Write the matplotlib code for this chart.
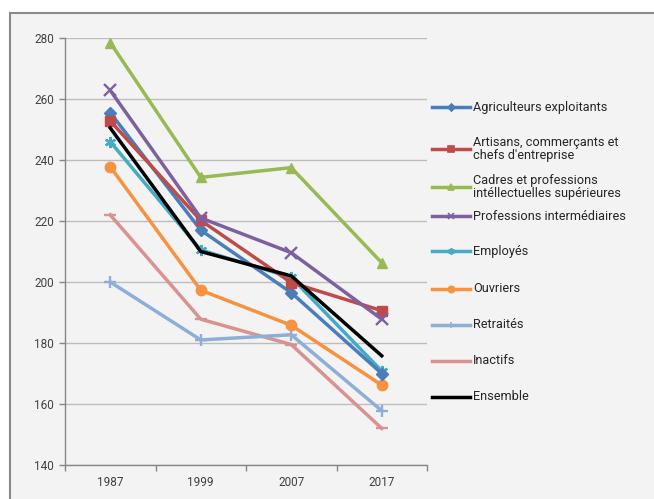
import matplotlib
matplotlib.use('Agg')
import matplotlib.pyplot as plt
from matplotlib.lines import Line2D
from matplotlib.patches import Rectangle

plt.rcParams['font.family'] = ['Roboto', 'DejaVu Sans']

years = ['1987', '1999', '2007', '2017']

agriculteurs = [255.5, 217, 196.5, 170]
artisans = [252.8, 220.2, 199.8, 190.6]
cadres = [278.5, 234.3, 237.5, 206.3]
prof_inter = [262.8, 221, 209.6, 187.8]
employes = [246, 210.5, 201.5, 170.8]
ouvriers = [237.8, 197.3, 185.8, 166.2]
retraites = [200, 181, 182.7, 157.8]
inactifs = [222, 187.8, 179.5, 152]
ensemble = [250.5, 210, 202, 175.8]

labels = ['Agriculteurs exploitants',
          'Artisans, commerçants et\nchefs d\'entreprise',
          'Cadres et professions\nintéllectuelles supérieures',
          'Professions intermédiaires',
          'Employés',
          'Ouvriers',
          'Retraités',
          'Inactifs',
          'Ensemble']
series = [agriculteurs, artisans, cadres, prof_inter, employes,
          ouvriers, retraites, inactifs, ensemble]
colors = ['#4a7ebb', '#be4b48', '#98b954', '#7d60a0', '#46aac5',
          '#f69240', '#8eaed8', '#d8928f', '#000000']
asterisk = (6, 2, 0)
markers = ['D', 's', '^', 'x', asterisk, 'o', '+', '_', None]
msizes = [6, 7, 7.5, 8, 8, 7.5, 8, 8, 0]
thin = [False, False, False, True, True, False, True, True, False]

W, H = 654, 499
fig = plt.figure(figsize=(W / 100, H / 100), dpi=100, facecolor='white')

# grey panel with a frame on the left and top
fig.patches.append(Rectangle((9.5 / W, -0.1), 1.2, 1.1 - 12.5 / H,
                             transform=fig.transFigure, facecolor='#f3f3f3',
                             edgecolor='#8a8a8a', linewidth=1.5, zorder=-1))

ax = fig.add_axes([65 / W, 1 - 465 / H, 362 / W, 427 / H])
ax.set_zorder(2)
ax.set_facecolor('none')
x = range(len(years))

# draw back to front so the black average ends on top
order = [7, 6, 5, 4, 0, 1, 3, 2, 8]
for i in order:
    ax.plot(x, series[i], color=colors[i], lw=2.5, marker=markers[i],
            markersize=msizes[i], markeredgewidth=1.7 if thin[i] else 1,
            markeredgecolor=colors[i], zorder=3 + (i == 8))

ax.set_xlim(-0.5, len(years) - 0.5)
ax.set_ylim(140, 280)
ax.set_yticks(range(140, 281, 20))
ax.set_xticks(list(x))
ax.set_xticklabels(years)
ax.set_xticks([i - 0.5 for i in range(len(years) + 1)], minor=True)
ax.tick_params(axis='x', which='major', length=0, pad=8)
ax.tick_params(axis='x', which='minor', length=4, color='#868686', width=1)
ax.tick_params(axis='y', length=4, color='#868686', width=1, pad=4)
ax.tick_params(labelsize=8.5, labelcolor='#404040')
ax.grid(axis='y', color='#bdbdbd', lw=1)
ax.set_axisbelow(True)
for side in ('top', 'right'):
    ax.spines[side].set_visible(False)
for side in ('left', 'bottom'):
    ax.spines[side].set_color('#868686')
    ax.spines[side].set_linewidth(1)

# legend drawn by hand to keep Excel-like spacing
leg_y = [107, 149, 187, 216, 251, 289, 325, 361, 397]
for i, yy in enumerate(leg_y):
    fy = 1 - yy / H
    fig.add_artist(Line2D([432 / W, 470 / W], [fy, fy], transform=fig.transFigure,
                          color=colors[i], lw=2.5))
    if markers[i]:
        fig.add_artist(Line2D([451 / W], [fy], transform=fig.transFigure,
                              color=colors[i], marker=markers[i],
                              markersize=msizes[i] * 0.6, markeredgewidth=1.2))
    fig.text(473 / W, fy, labels[i], fontsize=9.2, color='#262626',
             va='center', ha='left', linespacing=1.05)

fig.savefig('out.png', dpi=100, facecolor=fig.get_facecolor())
